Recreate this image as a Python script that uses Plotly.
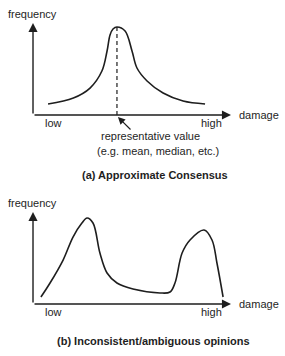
import plotly.graph_objects as go

# ---- data (damage units 0..10, frequency units 0..10) ----
consensus_damage = [0.76, 2.04, 2.88, 3.48, 3.74, 3.89, 4.04, 4.24, 4.65, 5.00, 5.25, 5.76, 6.57, 7.58, 8.69]
consensus_freq =   [1.20, 1.85, 2.93, 4.78, 6.96, 8.70, 9.35, 9.57, 9.13, 6.96, 5.11, 3.70, 2.39, 1.52, 1.20]

split_damage = [0.40, 0.86, 1.52, 2.02, 2.47, 2.73, 3.03, 3.38, 3.74, 4.24, 5.05, 6.41, 6.92, 7.17, 7.53, 7.93, 8.64, 9.04, 9.29, 9.60]
split_freq =   [0.76, 2.28, 4.78, 7.28, 8.80, 9.35, 8.80, 5.54, 3.37, 2.28, 1.63, 1.20, 1.30, 2.28, 5.54, 6.96, 8.04, 6.96, 4.46, 0.76]

rep_value = 4.24      # representative value (damage)
rep_peak = 9.57

axis_max = 10
x_labels = ["low", "high"]
x_label_pos = [1.01, 9.02]
titles = ["(a) Approximate Consensus", "(b) Inconsistent/ambiguous opinions"]

INK = "#1e1e1e"
FONT = "Liberation Sans, Arial, sans-serif"

fig = go.Figure()

fig.add_trace(go.Scatter(x=consensus_damage, y=consensus_freq, mode="lines",
                         line=dict(color=INK, width=1.6, shape="spline", smoothing=1.0),
                         xaxis="x", yaxis="y", hoverinfo="skip"))
fig.add_trace(go.Scatter(x=[rep_value, rep_value], y=[0, rep_peak], mode="lines",
                         line=dict(color=INK, width=1.2, dash="4px,3px"),
                         xaxis="x", yaxis="y", hoverinfo="skip"))
fig.add_trace(go.Scatter(x=split_damage, y=split_freq, mode="lines",
                         line=dict(color=INK, width=1.6, shape="spline", smoothing=1.0),
                         xaxis="x2", yaxis="y2", hoverinfo="skip"))

ann = []
for xr, yr in [("x", "y"), ("x2", "y2")]:
    # x axis arrow
    ann.append(dict(x=axis_max, y=0, ax=0, ay=0, xref=xr, yref=yr, axref=xr, ayref=yr,
                    showarrow=True, arrowhead=2, arrowsize=1.3, arrowwidth=1.4,
                    arrowcolor=INK, text=""))
    # y axis arrow
    ann.append(dict(x=0, y=axis_max, ax=0, ay=0, xref=xr, yref=yr, axref=xr, ayref=yr,
                    showarrow=True, arrowhead=2, arrowsize=1.3, arrowwidth=1.4,
                    arrowcolor=INK, text=""))
    ann.append(dict(x=-0.05, y=10.98, xref=xr, yref=yr, text="frequency", showarrow=False,
                    font=dict(size=11, color=INK, family=FONT), xanchor="center", yanchor="middle"))
    ann.append(dict(x=10.30, y=0, xref=xr, yref=yr, text="damage", showarrow=False,
                    font=dict(size=11, color=INK, family=FONT), xanchor="left", yanchor="middle"))
    for lab, pos in zip(x_labels, x_label_pos):
        ann.append(dict(x=pos, y=-0.87, xref=xr, yref=yr, text=lab, showarrow=False,
                        font=dict(size=11, color=INK, family=FONT), xanchor="center", yanchor="middle"))

ann.append(dict(x=rep_value + 0.05, y=-0.22, ax=5.0, ay=-1.74, xref="x", yref="y", axref="x", ayref="y",
                showarrow=True, arrowhead=2, arrowsize=1.2, arrowwidth=1.2, arrowcolor=INK, text=""))
ann.append(dict(x=5.91, y=-2.28, xref="x", yref="y", text="representative value", showarrow=False,
                font=dict(size=11, color=INK, family=FONT), xanchor="center", yanchor="middle"))
ann.append(dict(x=6.31, y=-3.91, xref="x", yref="y", text="(e.g. mean, median, etc.)", showarrow=False,
                font=dict(size=11, color=INK, family=FONT), xanchor="center", yanchor="middle"))
ann.append(dict(x=6.16, y=-6.52, xref="x", yref="y", text="<b>" + titles[0] + "</b>", showarrow=False,
                font=dict(size=11, color=INK, family=FONT), xanchor="center", yanchor="middle"))
ann.append(dict(x=6.11, y=-4.02, xref="x2", yref="y2", text="<b>" + titles[1] + "</b>", showarrow=False,
                font=dict(size=11, color=INK, family=FONT), xanchor="center", yanchor="middle"))

hidden = dict(visible=False, showgrid=False, zeroline=False, fixedrange=True)
split = 1 - 180 / 356
fig.update_layout(
    width=285, height=356,
    margin=dict(l=0, r=0, t=0, b=0),
    paper_bgcolor="white", plot_bgcolor="white",
    showlegend=False,
    xaxis=dict(domain=[0, 1], range=[-1.667, 12.727], anchor="y", **hidden),
    yaxis=dict(domain=[split, 1], range=[-7.065, 12.5], anchor="x", **hidden),
    xaxis2=dict(domain=[0, 1], range=[-1.667, 12.727], anchor="y2", **hidden),
    yaxis2=dict(domain=[0, split], range=[-5.652, 13.478], anchor="x2", **hidden),
    annotations=ann,
)

fig.write_html("out.html", config={"displayModeBar": False, "staticPlot": True},
               post_script="document.body.style.margin='0';document.body.style.padding='0';")
